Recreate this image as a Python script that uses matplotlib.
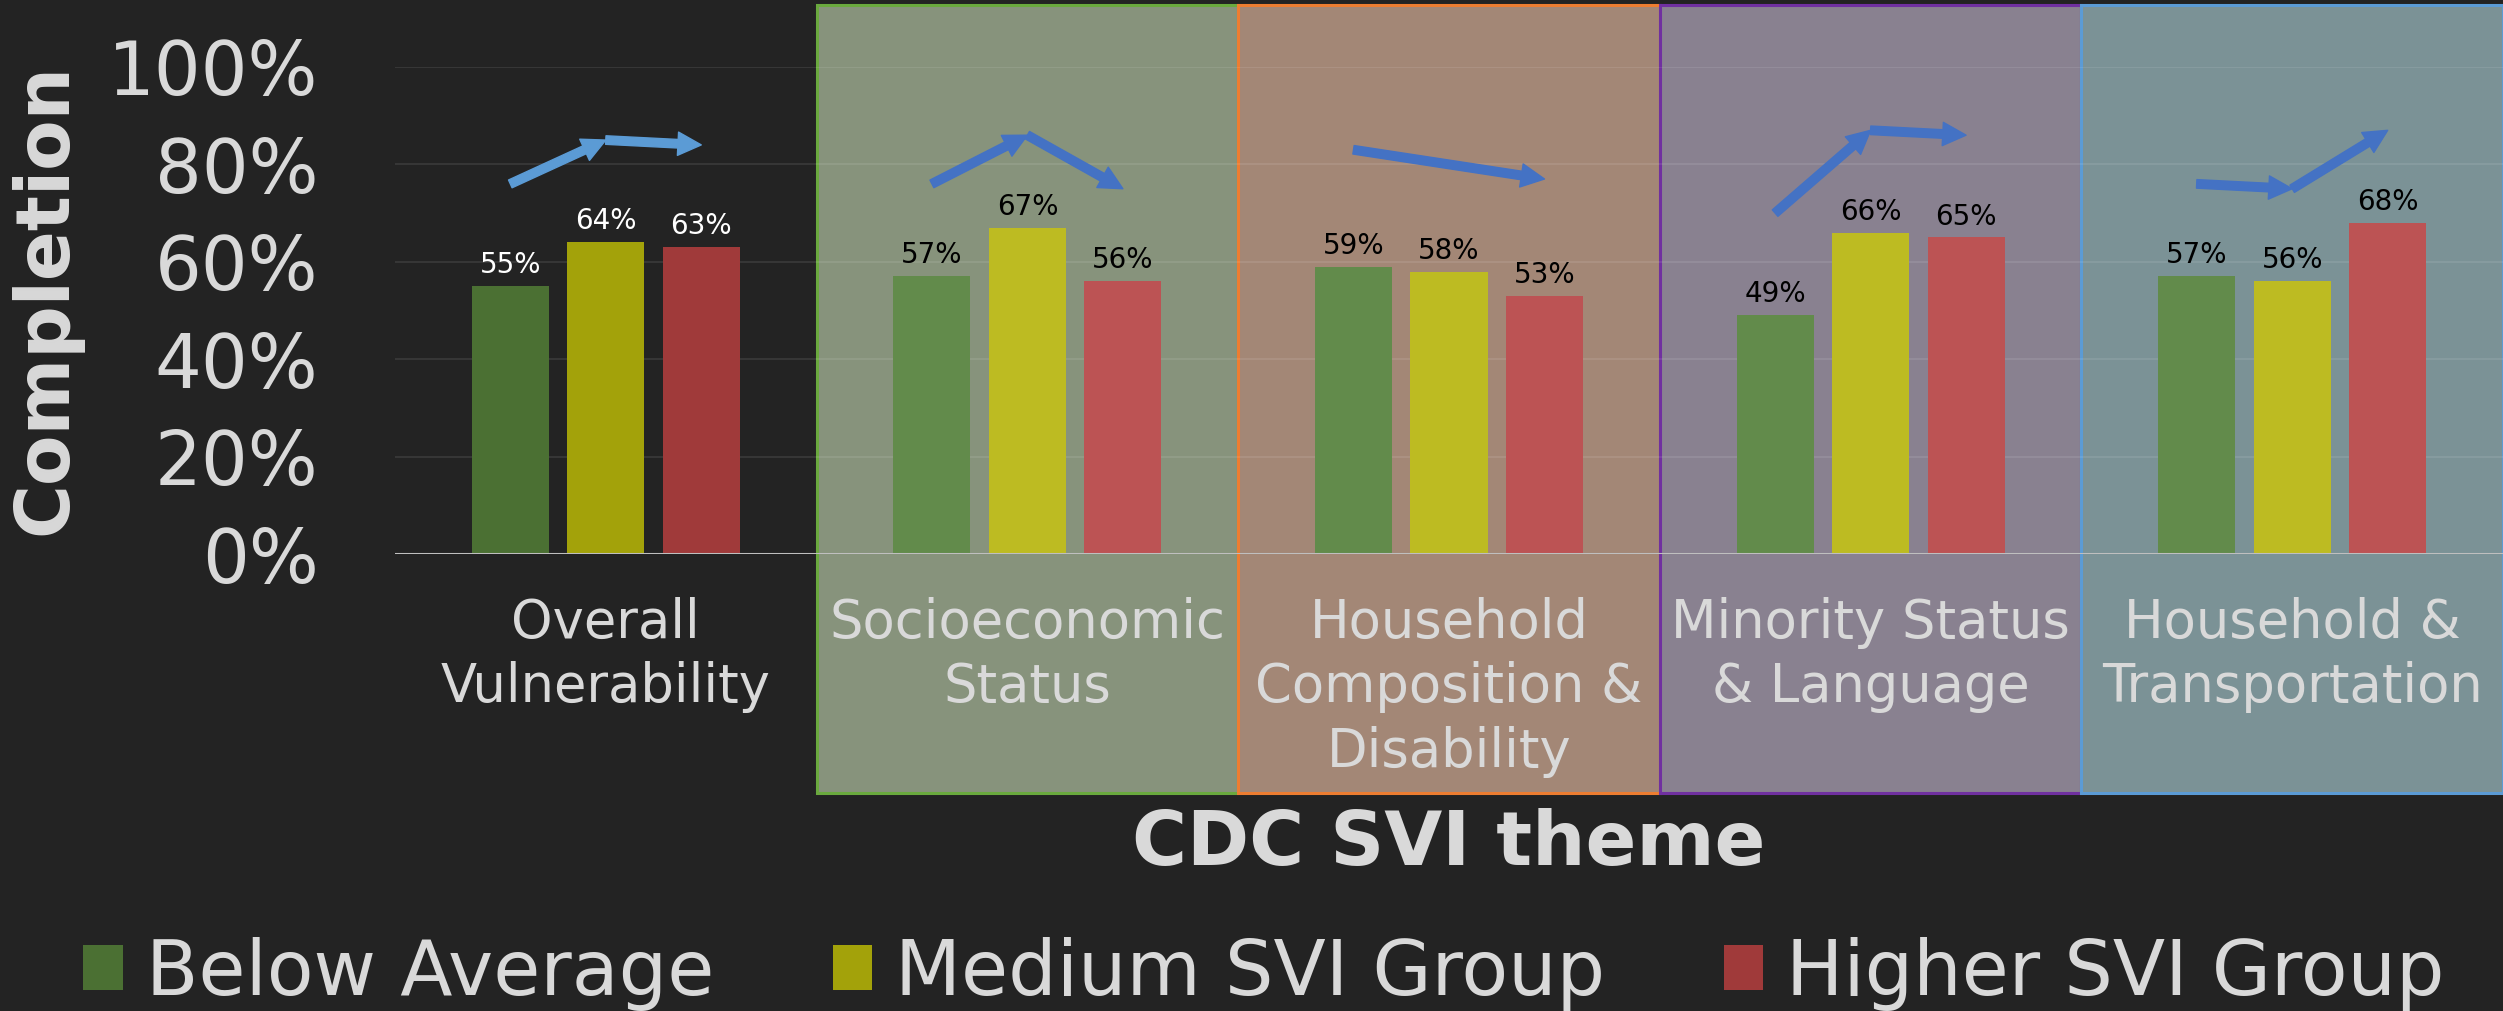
import numpy as np
import matplotlib.pyplot as plt
from matplotlib.patches import Rectangle, Patch
from matplotlib.transforms import blended_transform_factory

# data
themes = ['Overall\nVulnerability', 'Socioeconomic\nStatus',
          'Household\nComposition &\nDisability', 'Minority Status\n& Language',
          'Household &\nTransportation']
groups = ['Below Average', 'Medium SVI Group', 'Higher SVI Group']
below_avg = [0.55, 0.57, 0.59, 0.49, 0.57]
medium_svi = [0.64, 0.67, 0.58, 0.66, 0.56]
higher_svi = [0.63, 0.56, 0.53, 0.65, 0.68]
arrow_offset = [0.21, 0.19, 0.24, 0.21, 0.19]  # trend arrows sit above the bars
yticks = [0, 0.2, 0.4, 0.6, 0.8, 1.0]

bg = '#232323'
txt = '#d9d9d9'
bar_dark = ['#4b7033', '#a3a20a', '#a03a3a']
bar_light = ['#628b4b', '#bdbb22', '#bc5354']
panel_face = ['#87937c', '#a38776', '#898190', '#7b9296']
panel_edge = ['#6aa93e', '#ed7d31', '#7030a0', '#5b9bd5']
arrow_cols = ['#5b9bd5', '#4472c4']

fig = plt.figure(figsize=(25.03, 10.11), dpi=100, facecolor=bg)
ax = fig.add_axes([395 / 2503, 1 - 554 / 1011, 1 - 395 / 2503, (554 - 67) / 1011])
ax.set_facecolor(bg)
for s in ax.spines.values():
    s.set_visible(False)

x = np.arange(len(themes))
w = 0.183
step = 0.2265
series = [below_avg, medium_svi, higher_svi]

# shaded theme panels (x in data, y in figure coords)
trans = blended_transform_factory(ax.transData, fig.transFigure)
for i in range(1, len(themes)):
    ax.add_patch(Rectangle((i - 0.5, 1 - 793 / 1011), 1, (793 - 5) / 1011,
                           transform=trans, facecolor=panel_face[i - 1],
                           edgecolor=panel_edge[i - 1], lw=2.2, clip_on=False, zorder=0.5))

for t in yticks[1:]:
    ax.axhline(t, color='white', alpha=0.09, lw=1.5, zorder=1)

for k, vals in enumerate(series):
    pos = x + (k - 1) * step
    cols = [bar_dark[k]] + [bar_light[k]] * (len(themes) - 1)
    ax.bar(pos, vals, w, color=cols, zorder=2)
    for i, (p, v) in enumerate(zip(pos, vals)):
        ax.annotate(f'{v:.0%}', (p, v), xytext=(0, 5), textcoords='offset points',
                    ha='center', va='bottom', fontsize=20,
                    color='white' if i == 0 else 'black', zorder=5)

ax.axhline(0, color='#bfbfbf', lw=2.2, zorder=3)

# trend arrows: merge consecutive steps going the same way
for i in range(len(themes)):
    vals = [s[i] for s in series]
    pos = [i + (k - 1) * step for k in range(3)]
    pts = [0]
    if np.sign(vals[1] - vals[0]) != np.sign(vals[2] - vals[1]):
        pts.append(1)
    pts.append(2)
    col = arrow_cols[0] if i == 0 else arrow_cols[1]
    off = arrow_offset[i]
    for a, b in zip(pts[:-1], pts[1:]):
        ax.annotate('', xy=(pos[b], vals[b] + off), xytext=(pos[a], vals[a] + off),
                    arrowprops=dict(arrowstyle='simple,head_length=0.6,head_width=0.6,tail_width=0.22',
                                    mutation_scale=28, color=col, shrinkA=0, shrinkB=0),
                    zorder=4)

ax.set_xlim(-0.5, len(themes) - 0.5)
ax.set_ylim(0, 1.0)
ax.set_yticks(yticks)
ax.set_yticklabels([f'{t:.0%}' for t in yticks], fontsize=53, color=txt)
ax.set_xticks(x)
ax.set_xticklabels(themes, fontsize=38, color=txt, linespacing=1.3)
ax.tick_params(axis='y', length=0, pad=55)
ax.tick_params(axis='x', length=0, pad=31)

fig.text(46 / 2503, 1 - 299 / 1011, 'Completion', rotation=90, fontsize=53,
         fontweight='bold', color=txt, ha='center', va='center')
fig.text(1449 / 2503, 1 - 845 / 1011, 'CDC SVI theme', fontsize=54,
         fontweight='bold', color=txt, ha='center', va='center')

handles = [Patch(facecolor=c) for c in bar_dark]
fig.legend(handles, groups, loc='center', bbox_to_anchor=(0.505, 0.037), ncol=3,
           frameon=False, fontsize=55, handlelength=0.52, handleheight=0.52,
           handletextpad=0.3, columnspacing=1.55, labelcolor=txt,
           borderpad=0, borderaxespad=0)

plt.savefig('out.png', dpi=100, facecolor=bg)
